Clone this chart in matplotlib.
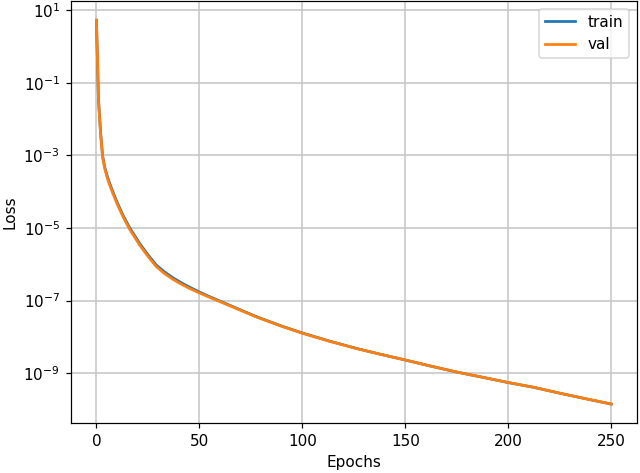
import matplotlib
matplotlib.use("Agg")
import matplotlib.pyplot as plt
from matplotlib.ticker import NullLocator

epochs = [0, 1, 2, 3, 4, 5, 6, 8, 10, 13, 16, 21, 25, 29, 33, 37, 41, 45, 50, 55,
          65, 78, 90, 100, 113, 126, 138, 150, 162, 175, 187, 200, 212, 225, 237, 250]

train_loss = [5.37, 3.5e-2, 4.4e-3, 9.8e-4, 4.9e-4, 3.0e-4, 2.0e-4, 9.9e-5, 5.2e-5,
              2.2e-5, 1.05e-5, 3.75e-6, 1.83e-6, 9.6e-7, 6.2e-7, 4.3e-7, 3.15e-7,
              2.38e-7, 1.72e-7, 1.28e-7, 7.3e-8, 3.55e-8, 1.98e-8, 1.28e-8, 7.7e-9,
              4.85e-9, 3.3e-9, 2.3e-9, 1.58e-9, 1.07e-9, 7.8e-10, 5.5e-10, 4.1e-10,
              2.8e-10, 2.0e-10, 1.40e-10]

val_loss = [5.37, 3.16e-2, 3.98e-3, 8.9e-4, 4.47e-4, 2.69e-4, 1.78e-4, 8.9e-5, 4.68e-5,
            2.0e-5, 9.5e-6, 3.39e-6, 1.66e-6, 8.7e-7, 5.6e-7, 3.9e-7, 2.88e-7,
            2.19e-7, 1.62e-7, 1.23e-7, 7.1e-8, 3.47e-8, 1.95e-8, 1.26e-8, 7.6e-9,
            4.8e-9, 3.3e-9, 2.3e-9, 1.58e-9, 1.07e-9, 7.8e-10, 5.5e-10, 4.1e-10,
            2.8e-10, 2.0e-10, 1.41e-10]

DPI = 110
fig = plt.figure(figsize=(640 / DPI, 473 / DPI), dpi=DPI)
ax = fig.add_axes([70.7 / 640, 49.7 / 473, (637 - 70.7) / 640, (472 - 49.7) / 473])
ax.plot(epochs, train_loss, color="#1f77b4", lw=1.8, label="train")
ax.plot(epochs, val_loss, color="#ff7f0e", lw=1.8, label="val")
ax.set_yscale("log")
ax.set_yticks([1e1, 1e-1, 1e-3, 1e-5, 1e-7, 1e-9])
ax.yaxis.set_minor_locator(NullLocator())
ax.set_xticks([0, 50, 100, 150, 200, 250])
ax.grid(True, color="#c4c4c4", lw=1.0)
ax.set_xlabel("Epochs")
ax.set_ylabel("Loss")
ax.legend(loc="upper right")
fig.savefig("out.png", dpi=DPI)
